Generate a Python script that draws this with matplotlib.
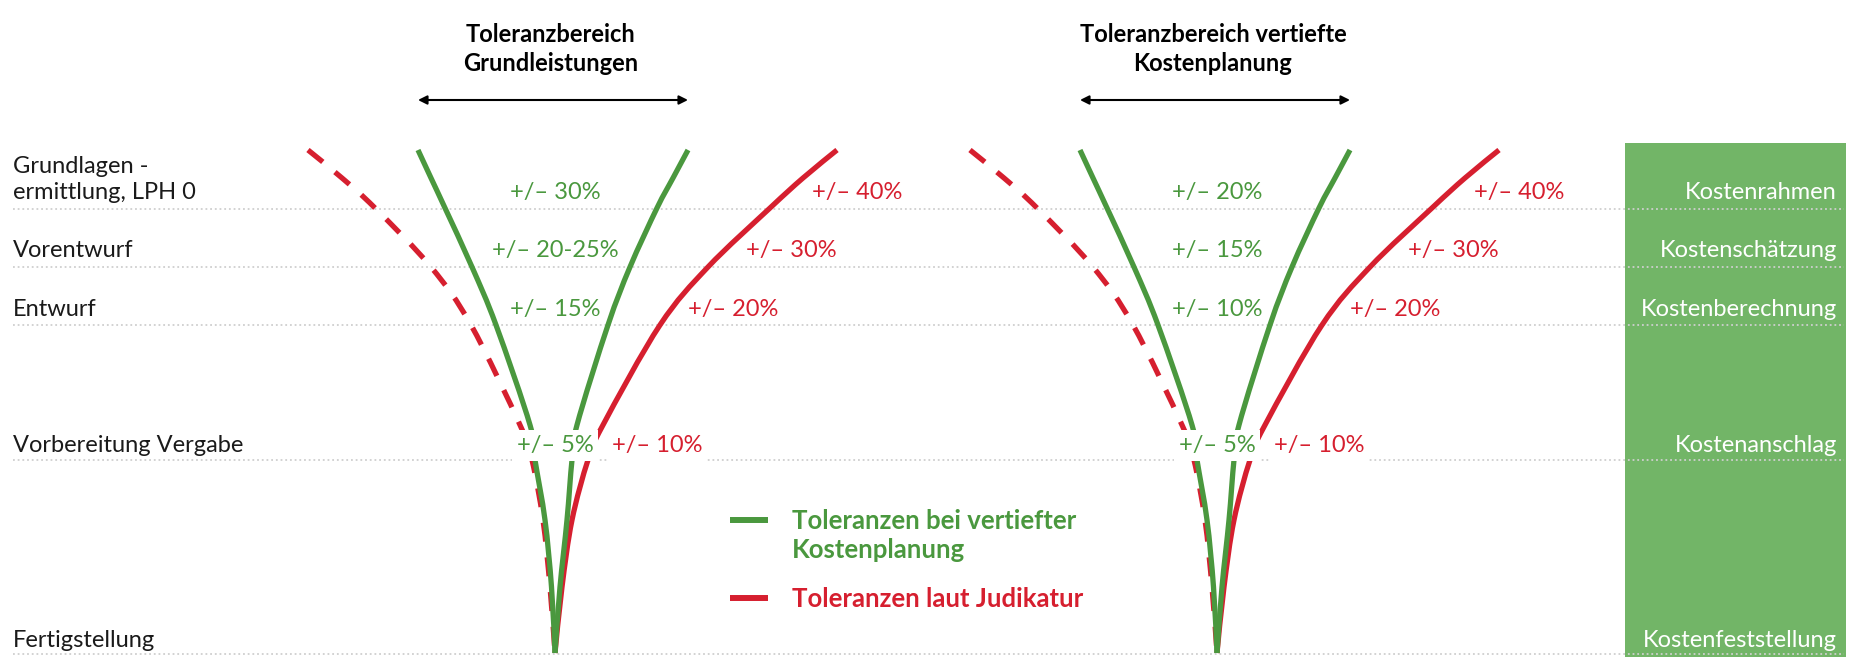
import numpy as np
import matplotlib.pyplot as plt
from matplotlib.path import Path
from matplotlib.patches import PathPatch, Rectangle

plt.rcParams['font.family'] = ['Lato', 'DejaVu Sans']

# Daten
phasen = ["Grundlagen -\nermittlung, LPH 0", "Vorentwurf", "Entwurf",
          "Vorbereitung Vergabe", "Fertigstellung"]
kostenstufen = ["Kostenrahmen", "Kostenschätzung", "Kostenberechnung",
                "Kostenanschlag", "Kostenfeststellung"]
titel = ["Toleranzbereich\nGrundleistungen", "Toleranzbereich vertiefte\nKostenplanung"]
tol_gruen = [["+/– 30%", "+/– 20-25%", "+/– 15%", "+/– 5%"],
             ["+/– 20%", "+/– 15%", "+/– 10%", "+/– 5%"]]
tol_rot = ["+/– 40%", "+/– 30%", "+/– 20%", "+/– 10%"]
legende = ["Toleranzen bei vertiefter\nKostenplanung", "Toleranzen laut Judikatur"]

# Kurvenform: Abstand zur Trichterspitze je Tiefe (in Bildpunkten)
tiefe = [150, 178, 208, 267, 325, 425, 460, 520, 587, 653]
gruen_links = [-137, -124, -110, -83, -59, -25, -20, -10, -3.5, 0]
gruen_rechts = [133, 118, 102, 75, 53, 22, 17, 12, 5, 0]
rot_rechts = [282, 248, 215, 153, 105, 48, 33, 17, 7, 0]
rot_links = [-247, -213, -180, -124, -84, -35, -23, -12, -5, 0]

# Layout
GRUEN = '#4a983e'
ROT = '#d61f2f'
BOX = '#72b567'
TEXT = '#1a1a1a'
spitzen = [555, 1217]
zeilen_y = [199, 257, 316, 452, 647]   # Grundlinie der Beschriftungen
linien_y = [209, 267, 325, 460, 654]
rot_text_dx = [257, 191, 133, 57]
FS = 17


def kurve(xs, ys):
    """Catmull-Rom-Punkte als Bezier-Pfad."""
    p = np.column_stack([xs, ys]).astype(float)
    pe = np.vstack([p[0], p, p[-1]])
    verts = [p[0]]
    codes = [Path.MOVETO]
    for i in range(len(p) - 1):
        p0, p1, p2, p3 = pe[i], pe[i + 1], pe[i + 2], pe[i + 3]
        verts += [p1 + (p2 - p0) / 6, p2 - (p3 - p1) / 6, p2]
        codes += [Path.CURVE4] * 3
    return Path(verts, codes)


fig = plt.figure(figsize=(18.54, 6.57), dpi=100)
ax = fig.add_axes([0, 0, 1, 1])
ax.set_xlim(0, 1854)
ax.set_ylim(657, 0)
ax.axis('off')

# grüner Kasten rechts
ax.add_patch(Rectangle((1625, 143), 221, 520, color=BOX, zorder=1, lw=0))

# gepunktete Linien
for y in linien_y:
    ax.plot([13, 1844], [y, y], color='#cfcfcf', lw=1.3, linestyle=(0, (1, 1.6)),
            zorder=2)

# Beschriftungen links und rechts
for i, (ph, ks) in enumerate(zip(phasen, kostenstufen)):
    ax.text(13, zeilen_y[i], ph, fontsize=FS, color=TEXT, ha='left', va='baseline',
            linespacing=1.32, zorder=5)
    ax.text(1837, zeilen_y[i], ks, fontsize=FS, color='white', ha='right',
            va='baseline', zorder=5)

# Trichter
for k, sx in enumerate(spitzen):
    for xs, farbe, ls in [(gruen_links, GRUEN, '-'), (gruen_rechts, GRUEN, '-'),
                          (rot_rechts, ROT, '-'), (rot_links, ROT, (0, (3.6, 3.0)))]:
        pfad = kurve(sx + np.array(xs), tiefe)
        zo = 3 if farbe == ROT else 3.5
        ax.add_patch(PathPatch(pfad, fill=False, edgecolor=farbe, lw=3.8,
                               linestyle=ls, capstyle='butt', zorder=zo))

    for j in range(4):
        # nur die unterste Zeile liegt über den Kurven
        box = dict(boxstyle='square,pad=0.2', fc='white', ec='none') if j == 3 else None
        ax.text(sx, zeilen_y[j], tol_gruen[k][j], fontsize=FS, color=GRUEN,
                ha='center', va='baseline', zorder=6, bbox=box)
        ax.text(sx + rot_text_dx[j], zeilen_y[j], tol_rot[j], fontsize=FS, color=ROT,
                ha='left', va='baseline', zorder=6, bbox=box)

    ax.text(sx - 4, 49, titel[k], fontsize=FS, fontweight='bold', color='black',
            ha='center', va='center', linespacing=1.32)
    ax.annotate('', xy=(sx + gruen_rechts[0], 100), xytext=(sx + gruen_links[0], 100),
                arrowprops=dict(arrowstyle='<|-|>', color='black', lw=1.5,
                                mutation_scale=13, shrinkA=0, shrinkB=0))

# Legende
ax.plot([730, 768], [520, 520], color=GRUEN, lw=4.3, solid_capstyle='butt')
ax.text(792, 558, legende[0], fontsize=18.5, fontweight='bold', color=GRUEN,
        ha='left', va='baseline', linespacing=1.25)
ax.plot([730, 768], [598, 598], color=ROT, lw=4.3, solid_capstyle='butt')
ax.text(792, 607, legende[1], fontsize=18.5, fontweight='bold', color=ROT,
        ha='left', va='baseline')

fig.savefig('out.png', dpi=100)
